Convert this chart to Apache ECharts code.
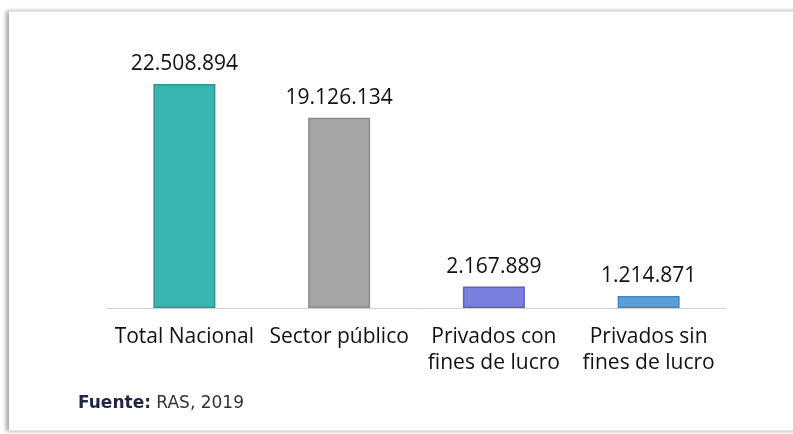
<!DOCTYPE html>
<html>
<head>
<meta charset="utf-8">
<script src="https://cdn.jsdelivr.net/npm/echarts@6/dist/echarts.min.js"></script>
<style>
  html, body { margin: 0; padding: 0; background: #fff; }
  .frame {
    position: absolute; left: 9px; top: 11px; width: 800px; height: 418px;
    border-top: 1px solid #e4e4e4; border-bottom: 1px solid #e4e4e4;
    box-shadow: -3px 0 4px rgba(0,0,0,0.35);
    background: #fff;
  }
  #chart { position: absolute; left: 0; top: 0; width: 793px; height: 434px; }
</style>
</head>
<body>
<div class="frame"></div>
<div id="chart"></div>
<script>
// categorias y valores
const categories = ['Total Nacional', 'Sector público', 'Privados con\nfines de lucro', 'Privados sin\nfines de lucro']
const values = [22508894, 19126134, 2167889, 1214871]
const barColors = ['#38b4b1', '#a5a5a5', '#7a7fdd', '#5b9ed8']
const borderColors = ['#2a9592', '#8c8c8c', '#5b60c4', '#4587c4']

const fmt = v => String(v).replace(/\B(?=(\d{3})+(?!\d))/g, '.')

const chart = echarts.init(document.getElementById('chart'))

chart.setOption({
  animation: false,
  grid: { left: 107, right: 67, top: 84, bottom: 126 },
  xAxis: {
    type: 'category',
    data: categories,
    axisTick: { show: false },
    axisLine: { lineStyle: { color: '#d0d0d0', width: 1 } },
    axisLabel: {
      interval: 0,
      margin: 16,
      fontFamily: 'Open Sans',
      fontSize: 21,
      lineHeight: 26,
      color: '#111'
    }
  },
  yAxis: {
    type: 'value',
    min: 0,
    max: 22508894,
    show: false,
    splitLine: { show: false }
  },
  series: [{
    type: 'bar',
    barWidth: 62,
    data: values.map((v, i) => ({
      value: v,
      itemStyle: { color: barColors[i], borderColor: borderColors[i], borderWidth: 1.5 }
    })),
    label: {
      show: true,
      position: 'top',
      distance: 9,
      formatter: p => fmt(p.value),
      fontFamily: 'Open Sans',
      fontSize: 21,
      color: '#111'
    }
  }],
  graphic: [{
    type: 'text',
    left: 78,
    top: 395,
    style: {
      text: '{b|Fuente:} RAS, 2019',
      rich: {
        b: { fontWeight: 'bold', fontFamily: 'DejaVu Sans', fontSize: 17, fill: '#1f2640' }
      },
      fontFamily: 'DejaVu Sans',
      fontSize: 17,
      fill: '#333'
    }
  }]
})
</script>
</body>
</html>
